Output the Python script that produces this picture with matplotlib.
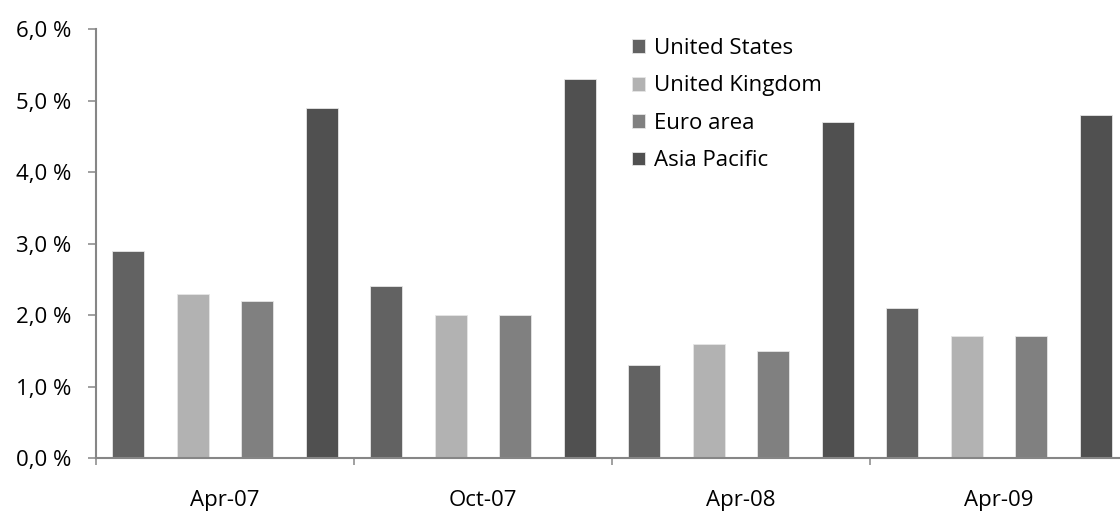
import numpy as np
import matplotlib
matplotlib.use("Agg")
import matplotlib.pyplot as plt
from matplotlib.ticker import FuncFormatter

# Chart data
periods = ["Apr-07", "Oct-07", "Apr-08", "Apr-09"]
series_names = ["United States", "United Kingdom", "Euro area", "Asia Pacific"]
united_states = [2.9, 2.4, 1.3, 2.1]
united_kingdom = [2.3, 2.0, 1.6, 1.7]
euro_area = [2.2, 2.0, 1.5, 1.7]
asia_pacific = [4.9, 5.3, 4.7, 4.8]
y_ticks = [0, 1, 2, 3, 4, 5, 6]

colors = ["#626262", "#b2b2b2", "#808080", "#505050"]
axis_gray = "#868686"

plt.rcParams["font.family"] = ["Open Sans", "DejaVu Sans"]

fig = plt.figure(figsize=(11.2, 5.11), dpi=100)
# axes extend a little past the right edge, like the original
ax = fig.add_axes([96 / 1120, (511 - 458) / 511, 1032 / 1120, (458 - 29) / 511])

n_series = len(series_names)
all_values = [united_states, united_kingdom, euro_area, asia_pacific]
for i, (name, vals) in enumerate(zip(series_names, all_values)):
    x = np.arange(len(periods)) * n_series + i + 0.5
    ax.bar(x, vals, width=0.5, color=colors[i], edgecolor="#e6e6e6",
           linewidth=0.6, label=name, zorder=2)

ax.set_xlim(0, len(periods) * n_series)
ax.set_ylim(0, 6)

# group boundary ticks, labels centred in each group
ax.set_xticks(np.arange(len(periods) + 1) * n_series)
ax.set_xticklabels([])
ax.set_xticks(np.arange(len(periods)) * n_series + n_series / 2, minor=True)
ax.set_xticklabels(periods, minor=True)
ax.tick_params(axis="x", which="major", length=5, width=1.1, color=axis_gray, direction="out")
ax.tick_params(axis="x", which="minor", length=0, pad=23, labelsize=16)

ax.set_yticks(y_ticks)
ax.yaxis.set_major_formatter(FuncFormatter(lambda v, p: f"{v:.1f} %".replace(".", ",")))
ax.tick_params(axis="y", length=6, width=1.1, color=axis_gray, direction="out", pad=12, labelsize=16)

for side in ["top", "right"]:
    ax.spines[side].set_visible(False)
for side in ["left", "bottom"]:
    ax.spines[side].set_color(axis_gray)
    ax.spines[side].set_linewidth(1.5)

ax.legend(loc="upper left", bbox_to_anchor=(632 / 1120, 1 - 38 / 511),
          bbox_transform=fig.transFigure, frameon=False, fontsize=16,
          handlelength=0.58, handleheight=0.58, handletextpad=0.4,
          labelspacing=0.74, borderaxespad=0, borderpad=0)

fig.savefig("out.png", dpi=100)
